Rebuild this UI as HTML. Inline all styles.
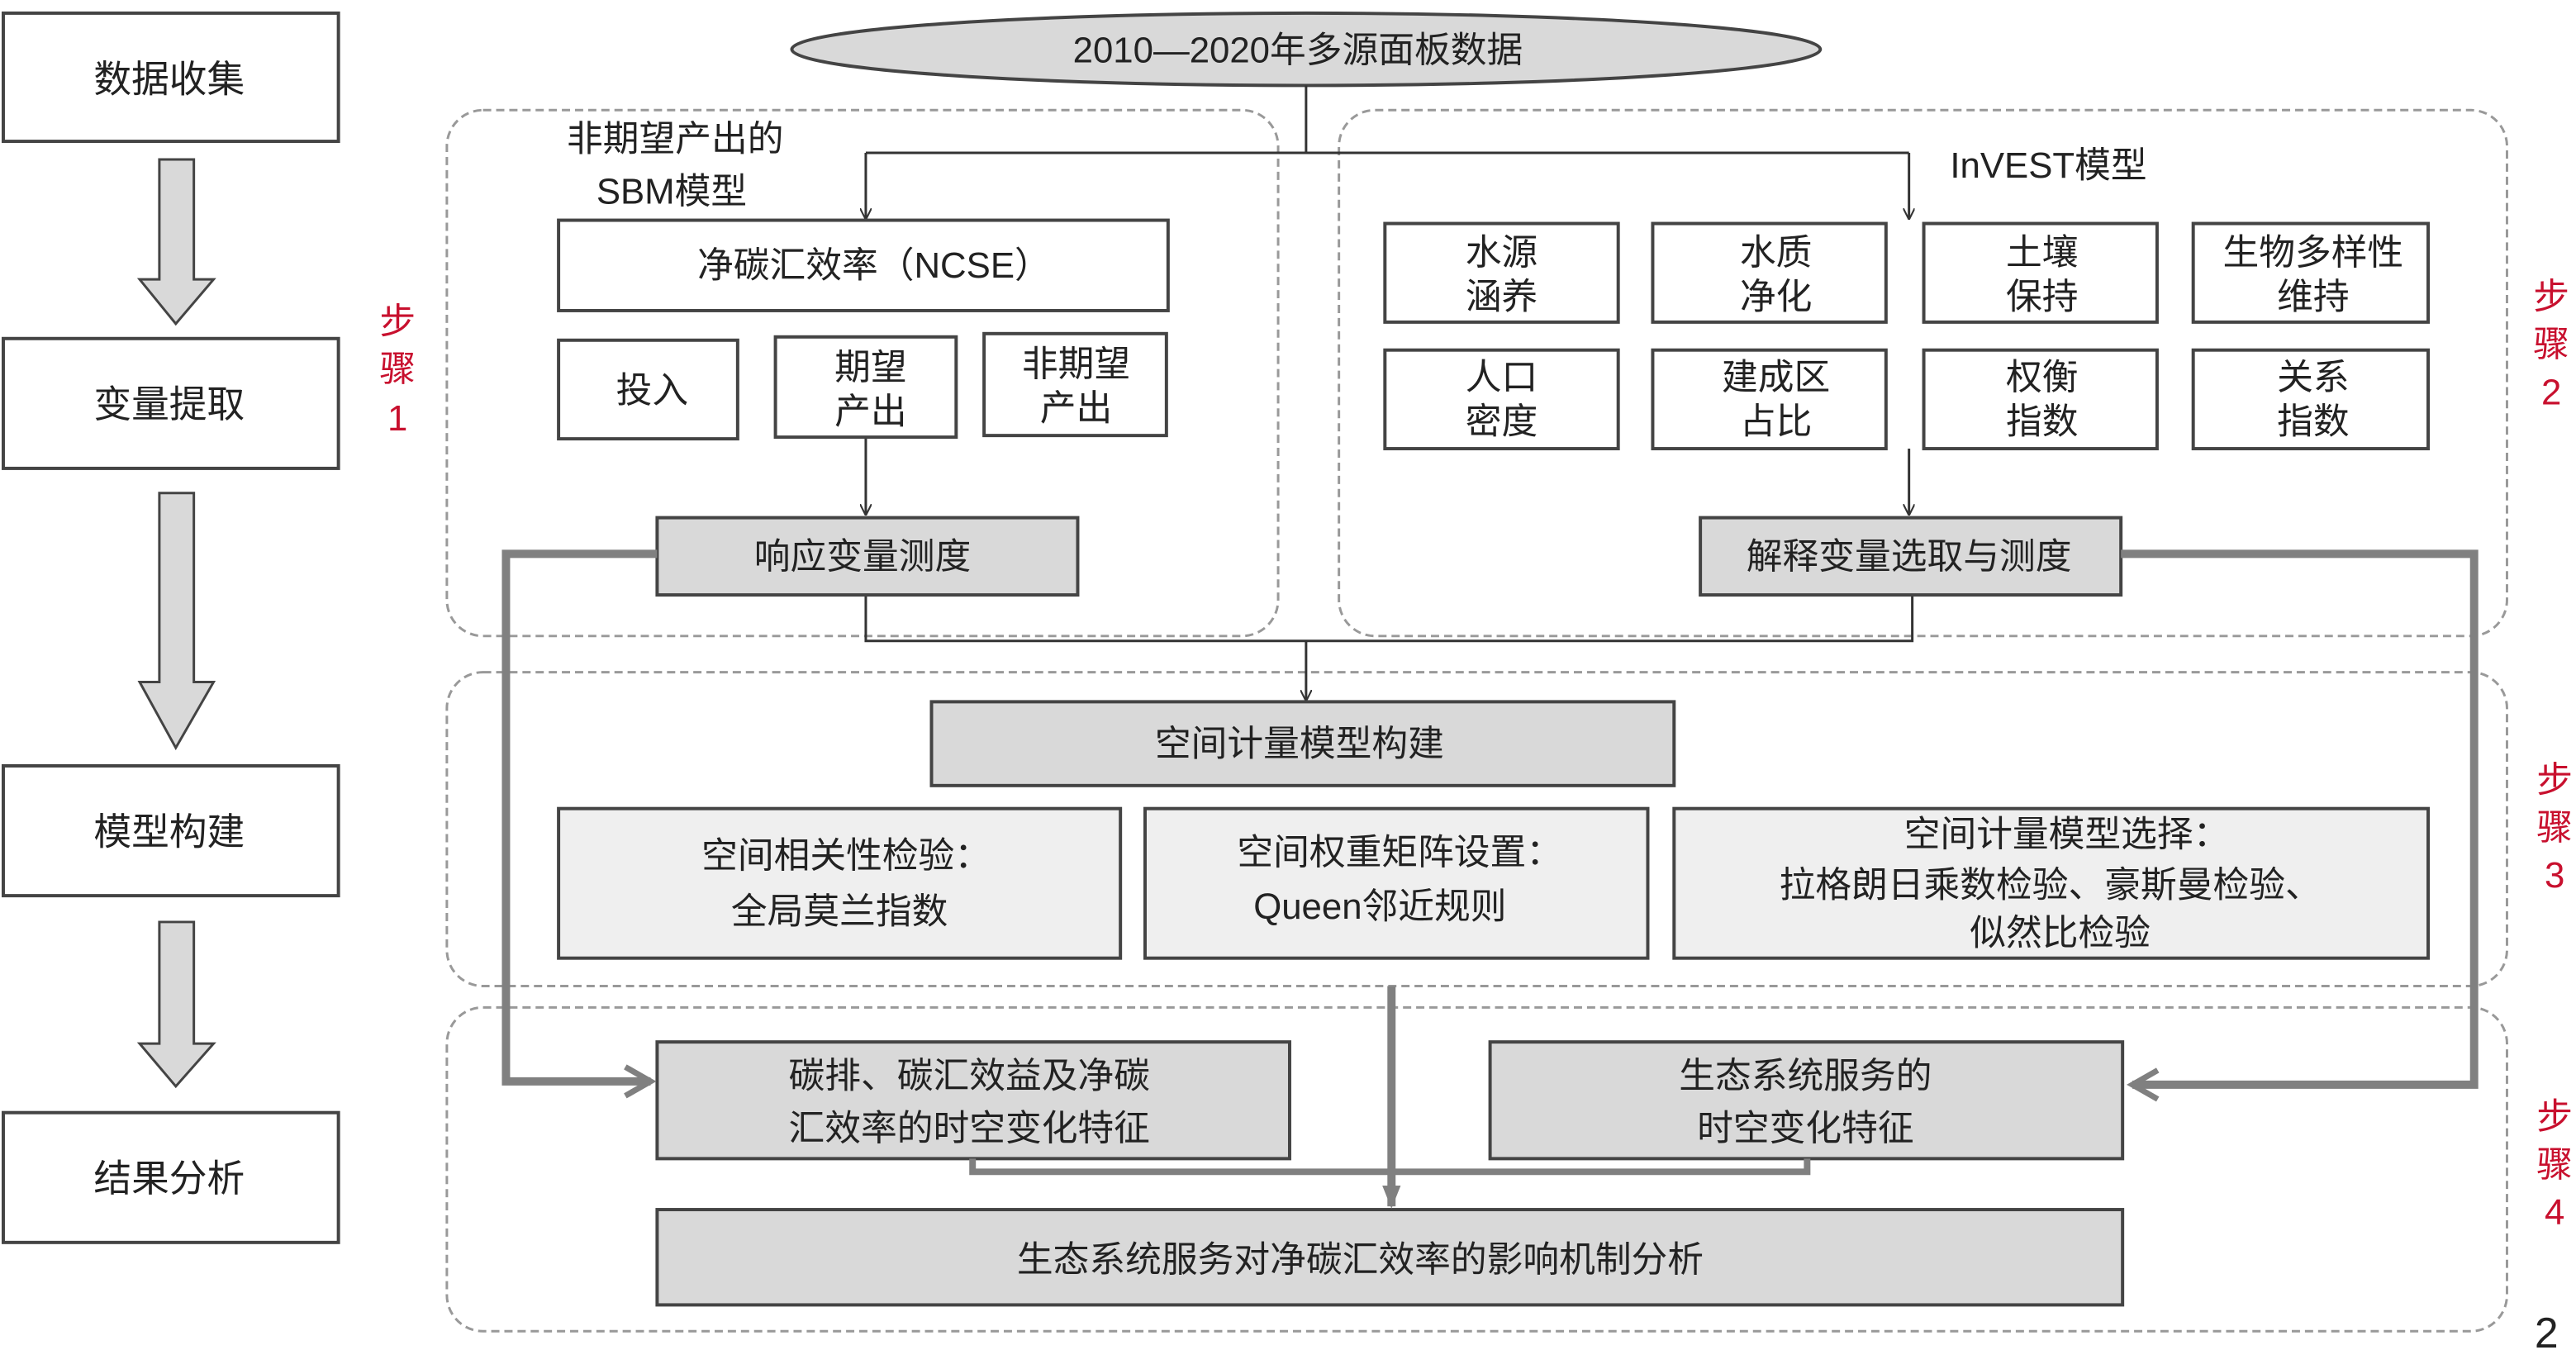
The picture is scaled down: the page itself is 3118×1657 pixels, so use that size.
<!DOCTYPE html>
<html><head><meta charset="utf-8">
<style>
html,body{margin:0;padding:0;background:#fff;}
svg{display:block;}
text{font-family:"Liberation Sans","Noto Sans CJK SC",sans-serif;fill:#222;}
</style></head>
<body>
<svg width="3118" height="1657" viewBox="0 0 1568 833" preserveAspectRatio="none" xmlns="http://www.w3.org/2000/svg">
<defs>
<marker id="a" viewBox="0 0 10 10" refX="9" refY="5" markerWidth="7" markerHeight="7" orient="auto" markerUnits="userSpaceOnUse">
<path d="M0,0 L10,5 L0,10" fill="none" stroke="#333" stroke-width="1.5"/></marker>
<marker id="g" viewBox="0 0 10 10" refX="8" refY="5" markerWidth="22" markerHeight="22" orient="auto" markerUnits="userSpaceOnUse">
<path d="M1,1 L8,5 L1,9" fill="none" stroke="#808080" stroke-width="1.6"/></marker>
<marker id="gt" viewBox="0 0 10 10" refX="9" refY="5" markerWidth="14" markerHeight="14" orient="auto" markerUnits="userSpaceOnUse">
<path d="M0,1 L10,5 L0,9 Z" fill="#808080"/></marker>
</defs>

<!-- left column -->
<g fill="#fff" stroke="#444" stroke-width="2">
<rect x="2" y="8" width="204" height="78"/>
<rect x="2" y="206" width="204" height="79"/>
<rect x="2" y="466" width="204" height="79"/>
<rect x="2" y="677" width="204" height="79"/>
</g>
<g font-size="23" text-anchor="middle">
<text x="103" y="56">数据收集</text>
<text x="103" y="254">变量提取</text>
<text x="103" y="514">模型构建</text>
<text x="103" y="725">结果分析</text>
</g>
<g fill="#d9d9d9" stroke="#444" stroke-width="1.5">
<path d="M97,97 H118 V170 H130 L107,197 L85,170 H97 Z"/>
<path d="M97,300 H118 V415 H130 L107,455 L85,415 H97 Z"/>
<path d="M97,561 H118 V635 H130 L107,661 L85,635 H97 Z"/>
</g>

<!-- step labels -->
<g font-size="22" text-anchor="middle" style="fill:#c8102e">
<text x="242" y="203" style="fill:#c8102e">步</text><text x="242" y="232" style="fill:#c8102e">骤</text><text x="242" y="262" style="fill:#c8102e">1</text>
<text x="1553" y="188" style="fill:#c8102e">步</text><text x="1553" y="217" style="fill:#c8102e">骤</text><text x="1553" y="246" style="fill:#c8102e">2</text>
<text x="1555" y="482" style="fill:#c8102e">步</text><text x="1555" y="511" style="fill:#c8102e">骤</text><text x="1555" y="540" style="fill:#c8102e">3</text>
<text x="1555" y="687" style="fill:#c8102e">步</text><text x="1555" y="716" style="fill:#c8102e">骤</text><text x="1555" y="745" style="fill:#c8102e">4</text>
</g>
<text x="1550" y="820" font-size="26" text-anchor="middle">2</text>

<!-- dashed regions -->
<g fill="none" stroke="#999" stroke-width="1.5" stroke-dasharray="5,3">
<rect x="272" y="67" width="506" height="320" rx="22"/>
<rect x="815" y="67" width="711" height="320" rx="22"/>
<rect x="272" y="409" width="1254" height="191" rx="22"/>
<rect x="272" y="613" width="1254" height="197" rx="22"/>
</g>

<!-- ellipse -->
<ellipse cx="795" cy="30" rx="313" ry="22" fill="#d9d9d9" stroke="#444" stroke-width="2"/>
<text x="790" y="38" font-size="22" text-anchor="middle">2010—2020年多源面板数据</text>

<!-- top connectors -->
<g fill="none" stroke="#333" stroke-width="1.5">
<path d="M795,52 V93 M527,93 H1162"/>
<path d="M527,93 V133" marker-end="url(#a)"/>
<path d="M1162,93 V133" marker-end="url(#a)"/>
<path d="M527,266 V313" marker-end="url(#a)"/>
<path d="M1162,273 V313" marker-end="url(#a)"/>
<path d="M527,362 V390 H1164 V362"/>
<path d="M795,390 V426" marker-end="url(#a)"/>
</g>

<text x="345" y="92" font-size="22">非期望产出的</text>
<text x="363" y="124" font-size="22">SBM模型</text>
<text x="1187" y="108" font-size="22">InVEST模型</text>

<!-- step1 boxes -->
<g fill="#fff" stroke="#444" stroke-width="2">
<rect x="340" y="134" width="371" height="55"/>
<rect x="340" y="207" width="109" height="60"/>
<rect x="472" y="205" width="110" height="61"/>
<rect x="599" y="203" width="111" height="62"/>
</g>
<g font-size="22" text-anchor="middle">
<text x="532" y="169">净碳汇效率（NCSE）</text>
<text x="397" y="245">投入</text>
<text x="530" y="231">期望</text><text x="530" y="258">产出</text>
<text x="655" y="229">非期望</text><text x="655" y="256">产出</text>
</g>

<!-- step2 grid -->
<g fill="#fff" stroke="#444" stroke-width="2">
<rect x="843" y="136" width="142" height="60"/><rect x="1006" y="136" width="142" height="60"/>
<rect x="1171" y="136" width="142" height="60"/><rect x="1335" y="136" width="143" height="60"/>
<rect x="843" y="213" width="142" height="60"/><rect x="1006" y="213" width="142" height="60"/>
<rect x="1171" y="213" width="142" height="60"/><rect x="1335" y="213" width="143" height="60"/>
</g>
<g font-size="22" text-anchor="middle">
<text x="914" y="161">水源</text><text x="914" y="188">涵养</text>
<text x="1081" y="161">水质</text><text x="1081" y="188">净化</text>
<text x="1243" y="161">土壤</text><text x="1243" y="188">保持</text>
<text x="1408" y="161">生物多样性</text><text x="1408" y="188">维持</text>
<text x="914" y="237">人口</text><text x="914" y="264">密度</text>
<text x="1081" y="237">建成区</text><text x="1081" y="264">占比</text>
<text x="1243" y="237">权衡</text><text x="1243" y="264">指数</text>
<text x="1408" y="237">关系</text><text x="1408" y="264">指数</text>
</g>

<!-- gray boxes -->
<g fill="#d9d9d9" stroke="#444" stroke-width="2">
<rect x="400" y="315" width="256" height="47"/>
<rect x="1035" y="315" width="256" height="47"/>
<rect x="567" y="427" width="452" height="51"/>
<rect x="400" y="634" width="385" height="71"/>
<rect x="907" y="634" width="385" height="71"/>
<rect x="400" y="736" width="892" height="58"/>
</g>
<g fill="#efefef" stroke="#444" stroke-width="2">
<rect x="340" y="492" width="342" height="91"/>
<rect x="697" y="492" width="306" height="91"/>
<rect x="1019" y="492" width="459" height="91"/>
</g>
<g font-size="22" text-anchor="middle">
<text x="525" y="346">响应变量测度</text>
<text x="1162" y="346">解释变量选取与测度</text>
<text x="791" y="460">空间计量模型构建</text>
<text x="515" y="528">空间相关性检验：</text><text x="511" y="562">全局莫兰指数</text>
<text x="852" y="526">空间权重矩阵设置：</text><text x="840" y="559">Queen邻近规则</text>
<text x="1258" y="515">空间计量模型选择：</text><text x="1248" y="546">拉格朗日乘数检验、豪斯曼检验、</text><text x="1254" y="575">似然比检验</text>
<text x="590" y="662">碳排、碳汇效益及净碳</text><text x="590" y="694">汇效率的时空变化特征</text>
<text x="1099" y="662">生态系统服务的</text><text x="1099" y="694">时空变化特征</text>
<text x="828" y="774">生态系统服务对净碳汇效率的影响机制分析</text>
</g>

<!-- thick gray connectors -->
<g fill="none" stroke="#808080" stroke-width="5">
<path d="M400,337 H308 V658 H396" marker-end="url(#g)"/>
<path d="M1291,337 H1506 V660 H1298" marker-end="url(#g)"/>
<path d="M847,600 V734" marker-end="url(#gt)"/>
<path d="M592,705 V713 H1100 V705" stroke-width="4"/>
</g>
</svg>
</body></html>
